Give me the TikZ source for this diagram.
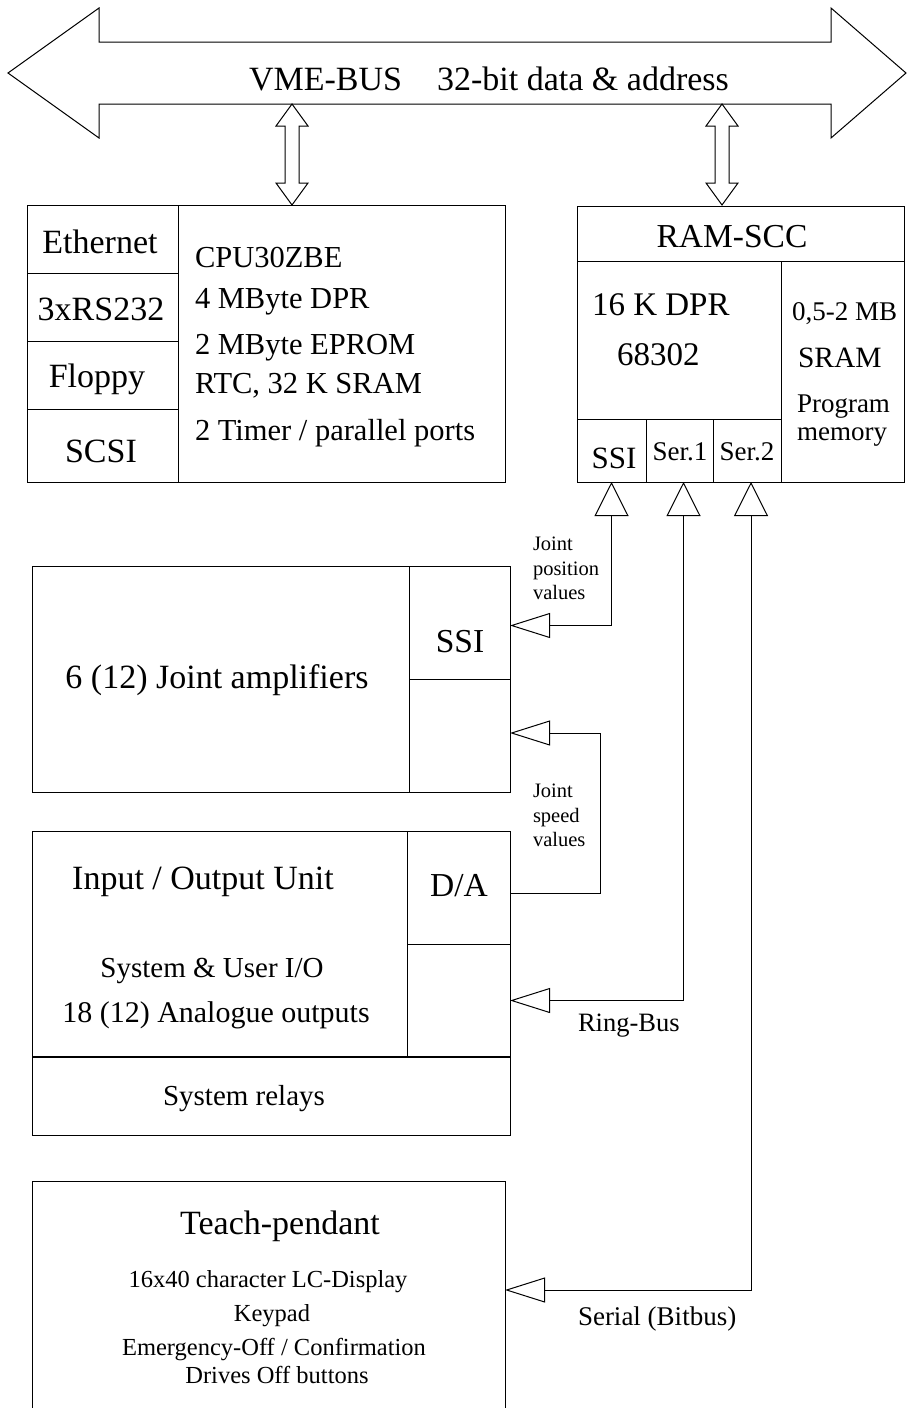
\documentclass[tikz,border=0pt]{standalone}
\usepackage{fontspec}
\setmainfont{Liberation Serif}
\usetikzlibrary{arrows.meta}
\tikzset{
  vtip/.tip={Triangle[open,length=34pt,width=34pt]},
  htip/.tip={Triangle[open,length=40pt,width=25pt]},
}
\begin{document}
\begin{tikzpicture}[x=1pt,y=-1pt,line width=1pt,
  cell/.style={draw,line width=1pt,inner sep=0pt,outer sep=0pt,anchor=north west},
  txt/.style={inner sep=0pt,outer sep=0pt,anchor=base},
  txl/.style={inner sep=0pt,outer sep=0pt,anchor=base west},
  fs/.style={font=\fontsize{#1}{#1}\selectfont},
  note/.style={inner sep=0pt,outer sep=0pt,anchor=north west,align=left,font=\fontsize{20.5}{24.5}\selectfont},
  vbus/.pic={\draw[fill=white] (0,0) -- (16,22) -- (7,22) -- (7,79) -- (16,79) -- (0,101) -- (-16,79) -- (-7,79) -- (-7,22) -- (-16,22) -- cycle;}
]
\useasboundingbox (0,0) rectangle (909,1408);
\clip (0,0) rectangle (909,1408);

% VME bus
\draw[fill=white] (8,73) -- (99,8) -- (99,42) -- (831,42) -- (831,8) -- (906,73) -- (831,138) -- (831,104) -- (99,104) -- (99,138) -- cycle;
\node[txt,fs=34] (bus) at (489,90) {VME-BUS\hspace{35pt}32-bit data \& address};
\coordinate (busA) at (292,104);
\coordinate (busB) at (722,104);
\pic at (busA) {vbus};
\pic at (busB) {vbus};

% CPU board
\node[cell,minimum width=478pt,minimum height=277pt] (cpu) at (27,205) {};
\node[cell,minimum width=151pt,minimum height=68pt] (eth) at (27,205) {};
\node[cell,minimum width=151pt,minimum height=68pt] (rs) at (27,273) {};
\node[cell,minimum width=151pt,minimum height=68pt] (flop) at (27,341) {};
\node[cell,minimum width=151pt,minimum height=73pt] (scsi) at (27,409) {};
\node[txt,fs=34] (tEth) at (100,253) {Ethernet};
\node[txt,fs=34] (tRS) at (101,320) {3xRS232};
\node[txt,fs=34] (tFl) at (97,387) {Floppy};
\node[txt,fs=34] (tSC) at (101,462) {SCSI};
\node[txl,fs=30.5] (c1) at (195,267) {CPU30ZBE};
\node[txl,fs=30.5] (c2) at (195,308) {4 MByte DPR};
\node[txl,fs=30.5] (c3) at (195,354) {2 MByte EPROM};
\node[txl,fs=30.5] (c4) at (195,393) {RTC, 32 K SRAM};
\node[txl,fs=30.5] (c5) at (195,440) {2 Timer / parallel ports};

% RAM-SCC
\node[cell,minimum width=327pt,minimum height=276pt] (ram) at (577,206) {};
\node[cell,minimum width=327pt,minimum height=55pt] (ramt) at (577,206) {};
\node[cell,minimum width=204pt,minimum height=158pt] (ramd) at (577,261) {};
\node[cell,minimum width=123pt,minimum height=221pt] (sram) at (781,261) {};
\node[cell,minimum width=69pt,minimum height=63pt] (rssi) at (577,419) {};
\node[cell,minimum width=67pt,minimum height=63pt] (ser1) at (646,419) {};
\node[cell,minimum width=68pt,minimum height=63pt] (ser2) at (713,419) {};
\node[txt,fs=33.5] (tRam) at (732,247) {RAM-SCC};
\node[txl,fs=33] (tDpr) at (592,315) {16 K DPR};
\node[txl,fs=33] (tCpu) at (617,365) {68302};
\node[txl,fs=27] (tMb) at (792,320) {0,5-2 MB};
\node[txl,fs=29.5] (tSram) at (798,367) {SRAM};
\node[txl,fs=27] (tProg) at (797,412) {Program};
\node[txl,fs=27] (tMem) at (797,440) {memory};
\node[txt,fs=31] (tSsi) at (614,468) {SSI};
\node[txt,fs=27] (tS1) at (680,460) {Ser.1};
\node[txt,fs=27] (tS2) at (747,460) {Ser.2};

% Joint amplifiers
\node[cell,minimum width=478pt,minimum height=226pt] (jamp) at (32,566) {};
\node[cell,minimum width=101pt,minimum height=113pt] (jssi) at (409,566) {};
\node[cell,minimum width=101pt,minimum height=113pt] (jlow) at (409,679) {};
\node[txt,fs=34] (tJa) at (217,688) {6 (12) Joint amplifiers};
\node[txt,fs=33.5] (tJs) at (460,652) {SSI};

% Input / Output unit
\node[cell,minimum width=478pt,minimum height=304pt] (io) at (32,831) {};
\node[cell,minimum width=103pt,minimum height=113pt] (da) at (407,831) {};
\node[cell,minimum width=103pt,minimum height=113pt] (iolow) at (407,944) {};
\node[cell,minimum width=478pt,minimum height=78pt] (relays) at (32,1057) {};
\draw[line width=1.8pt] (relays.north west) -- (relays.north east);
\node[txt,fs=34] (tIo) at (203,889) {Input / Output Unit};
\node[txt,fs=33.5] (tDa) at (459,896) {D/A};
\node[txt,fs=29] (tSys) at (212,977) {System \& User I/O};
\node[txt,fs=30] (tAn) at (216,1022) {18 (12) Analogue outputs};
\node[txt,fs=29] (tRel) at (244,1105) {System relays};

% Teach-pendant
\node[cell,minimum width=473pt,minimum height=250pt] (teach) at (32,1181) {};
\node[txt,fs=34] (tTp) at (280,1234) {Teach-pendant};
\node[txt,fs=24.5] (tL1) at (268,1287) {16x40 character LC-Display};
\node[txt,fs=24.5] (tL2) at (272,1321) {Keypad};
\node[txt,fs=24.5] (tL3) at (274,1355) {Emergency-Off / Confirmation};
\node[txt,fs=24.5] (tL4) at (277,1383) {Drives Off buttons};

% connectors
\draw[{vtip}-{htip}] (rssi.south) |- ([yshift=-3pt]jssi.east);
\draw[-{htip}] ([yshift=-5.5pt]da.east) -- ++(90,0) |- ([yshift=2.5pt]jlow.east);
\draw[{vtip}-{htip}] ([xshift=4pt]ser1.south) |- (iolow.east);
\draw[{vtip}-{htip}] ([xshift=4pt]ser2.south) |- ([yshift=16pt]teach.east);

% labels
\node[note] (lPos) at (533,537) {Joint\\position\\values};
\node[note] (lSpd) at (533,784) {Joint\\speed\\values};
\node[txl,fs=26.5] (lRing) at (578,1031) {Ring-Bus};
\node[txl,fs=27] (lSer) at (578,1325) {Serial (Bitbus)};
\end{tikzpicture}
\end{document}
